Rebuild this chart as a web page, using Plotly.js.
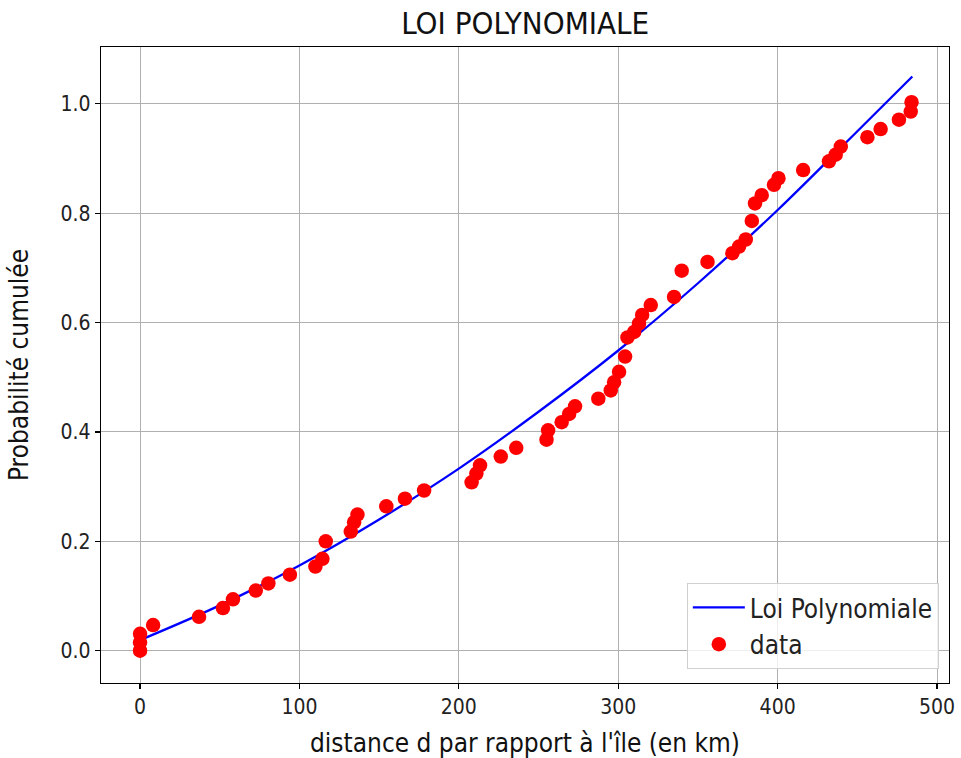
<!DOCTYPE html>
<html>
<head>
<meta charset="utf-8">
<script src="https://cdn.plot.ly/plotly-3.0.1.min.js"></script>
<style>
  html, body { margin: 0; padding: 0; background: #ffffff; }
  #chart { width: 961px; height: 758px; }
</style>
</head>
<body>
<div id="chart"></div>
<script>
// Scatter data: distance (km) and cumulative probability
const dataX = [0, 0, 0, 8.2, 37, 52, 58.3, 72.6, 80.5, 94, 110, 114.4, 116.5, 132.2, 134.3, 136.4,
  154.5, 166.2, 178.2, 208, 211, 213.3, 226.3, 236, 255, 256, 264.5, 269.2, 272.9, 287.5, 295.3,
  297.4, 300.5, 304.3, 305.8, 310, 313, 315, 320.4, 335, 339.8, 356, 371.6, 375.8, 380, 383.8,
  385.8, 390, 397.7, 400.5, 416, 432.2, 436.4, 439.6, 456.3, 464.6, 476.1, 483.5, 484];
const dataY = [0.000, 0.015, 0.031, 0.047, 0.062, 0.078, 0.094, 0.110, 0.123, 0.139, 0.154, 0.168,
  0.200, 0.218, 0.235, 0.249, 0.264, 0.278, 0.293, 0.308, 0.324, 0.339, 0.355, 0.371, 0.386, 0.403,
  0.418, 0.433, 0.447, 0.461, 0.476, 0.491, 0.510, 0.538, 0.573, 0.583, 0.598, 0.614, 0.632, 0.647,
  0.695, 0.711, 0.727, 0.739, 0.752, 0.786, 0.818, 0.833, 0.852, 0.864, 0.879, 0.895, 0.907, 0.922,
  0.939, 0.954, 0.971, 0.986, 1.003];

// Fitted polynomial curve
const fitX = [0, 50, 100, 150, 200, 250, 300, 350, 400, 450, 484.5];
const fitY = [0.0195, 0.083, 0.156, 0.240, 0.333, 0.437, 0.549, 0.672, 0.806, 0.950, 1.050];

const xTicks = [0, 100, 200, 300, 400, 500];
const yTicks = [0.0, 0.2, 0.4, 0.6, 0.8, 1.0];

const FONT = "DejaVu Sans Condensed, DejaVu Sans, sans-serif";

const traces = [
  {
    x: fitX, y: fitY, type: 'scatter', mode: 'lines', name: 'Loi Polynomiale',
    line: { color: '#0000ff', width: 2.3, shape: 'spline' }
  },
  {
    x: dataX, y: dataY, type: 'scatter', mode: 'markers', name: 'data',
    marker: { color: '#ff0000', size: 14.5 }
  }
];

const axisCommon = {
  showgrid: true, gridcolor: '#b0b0b0', gridwidth: 1,
  zeroline: false, showline: true, linecolor: '#000000', linewidth: 1.2, mirror: true,
  ticks: 'outside', ticklen: 5, tickwidth: 1.2, tickcolor: '#000000',
  tickfont: { family: FONT, size: 21, color: '#222222' }
};

const layout = {
  width: 961, height: 758,
  margin: { l: 101, r: 12, t: 47, b: 75 },
  paper_bgcolor: '#ffffff', plot_bgcolor: '#ffffff',
  font: { family: FONT, color: '#000000' },
  title: { text: 'LOI POLYNOMIALE', x: 0.5465, xanchor: 'center', y: 0.9697, yanchor: 'middle',
           font: { family: FONT, size: 31, color: '#111111' } },
  xaxis: Object.assign({}, axisCommon, {
    range: [-24.5, 507.5], tickvals: xTicks, ticktext: xTicks.map(String),
    title: { text: "distance d par rapport à l'île (en km)", standoff: 16,
             font: { family: FONT, size: 26, color: '#111111' } }
  }),
  yaxis: Object.assign({}, axisCommon, {
    range: [-0.059, 1.104], tickvals: yTicks, ticktext: yTicks.map(v => v.toFixed(1)),
    title: { text: 'Probabilité cumulée', standoff: 24,
             font: { family: FONT, size: 26, color: '#111111' } }
  }),
  showlegend: true,
  legend: {
    x: 0.988, y: 0.022, xanchor: 'right', yanchor: 'bottom',
    bgcolor: 'rgba(255,255,255,0.8)', bordercolor: '#d0d0d0', borderwidth: 1,
    font: { family: FONT, size: 26, color: '#222222' },
    itemwidth: 52,
    tracegroupgap: 2
  }
};

Plotly.newPlot('chart', traces, layout, { displayModeBar: false, staticPlot: true });
</script>
</body>
</html>
